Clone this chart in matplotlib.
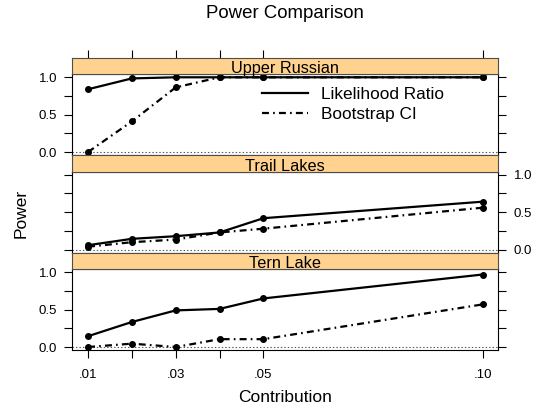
import matplotlib
matplotlib.use("Agg")
import matplotlib.pyplot as plt
from matplotlib.lines import Line2D

# contribution levels (x axis)
contribution = [0.01, 0.02, 0.03, 0.04, 0.05, 0.10]

# power by site
sites = ["Upper Russian", "Trail Lakes", "Tern Lake"]
lr_upper = [0.84, 0.985, 1.0, 1.0, 1.0, 1.0]
boot_upper = [0.0, 0.41, 0.865, 1.0, 1.0, 1.0]
lr_trail = [0.06, 0.145, 0.18, 0.23, 0.42, 0.64]
boot_trail = [0.04, 0.10, 0.135, 0.23, 0.28, 0.56]
lr_tern = [0.145, 0.335, 0.49, 0.51, 0.65, 0.97]
boot_tern = [0.0, 0.045, 0.0, 0.105, 0.105, 0.57]

xticks = [0.01, 0.02, 0.03, 0.04, 0.05, 0.10]
xticklabels = [".01", "", ".03", "", ".05", ".10"]
yticks = [0, 0.25, 0.5, 0.75, 1.0]
yticklabels = ["0.0", "", "0.5", "", "1.0"]

plt.rcParams['font.family'] = ['Liberation Sans', 'DejaVu Sans']
plt.rcParams['lines.scale_dashes'] = False

W, H = 536, 413
fig = plt.figure(figsize=(W / 100, H / 100), dpi=100)

strip_col = "#ffd28f"
xlim = (0.01 - 0.0036, 0.10 + 0.0036)
ylim = (-0.04, 1.04)
dotdash = (0, (5, 3, 1.2, 3))
left_px, right_px = 72.3, 498.3
mid_x = (left_px + right_px) / 2 / W


def box(top, bottom):
    return [left_px / W, 1 - bottom / H, (right_px - left_px) / W, (bottom - top) / H]


# panels, top to bottom: (strip top, strip bottom/panel top, panel bottom)
layout = [(57.7, 74.3, 155.0), (155.0, 171.7, 252.7), (252.7, 269.3, 350.0)]
data = [(lr_upper, boot_upper), (lr_trail, boot_trail), (lr_tern, boot_tern)]

for i, (name, (s_top, p_top, p_bot), (lr, bt)) in enumerate(zip(sites, layout, data)):
    ax = fig.add_axes(box(p_top, p_bot))
    ax.set_xlim(xlim)
    ax.set_ylim(ylim)
    ax.axhline(0, color="#555555", lw=0.8, ls=(0, (1, 1.5)), zorder=1)
    ax.plot(contribution, lr, color="black", lw=1.6, marker="o", ms=4, zorder=3)
    ax.plot(contribution, bt, color="black", lw=1.6, ls=dotdash, marker="o", ms=4, zorder=3)
    ax.set_yticks(yticks)
    ax.set_yticklabels(yticklabels, fontsize=9.5)
    ax.set_xticks(xticks)
    ax.tick_params(axis="y", direction="out", length=5.5, width=0.8,
                   left=True, right=True, labelleft=(i != 1), labelright=(i == 1),
                   labelsize=9.5, pad=5.5)
    ax.tick_params(axis="x", direction="out", length=5.5, width=0.8,
                   top=False, bottom=(i == 2), labelbottom=(i == 2),
                   labelsize=9.5, pad=8)
    if i == 2:
        ax.set_xticklabels(xticklabels, fontsize=9.5)
    else:
        ax.set_xticklabels([])
    for sp in ax.spines.values():
        sp.set_linewidth(0.8)

    sax = fig.add_axes(box(s_top, p_top))
    sax.set_facecolor(strip_col)
    sax.set_xlim(xlim)
    sax.set_yticks([])
    sax.set_xticks(xticks if i == 0 else [])
    sax.tick_params(direction="out", length=5.5, width=0.8, top=(i == 0),
                    bottom=False, labeltop=False, labelbottom=False)
    for sp in sax.spines.values():
        sp.set_linewidth(0.8)
        sp.set_color("#4d4d4d")
    sax.text(0.5, 0.05, name, transform=sax.transAxes, ha="center", va="baseline",
             fontsize=11.7)

    if i == 0:
        handles = [Line2D([], [], color="black", lw=1.6),
                   Line2D([], [], color="black", lw=1.6, ls=dotdash)]
        ax.legend(handles, ["Likelihood Ratio", "Bootstrap CI"], frameon=False,
                  loc="upper left",
                  bbox_to_anchor=((262 - left_px) / (right_px - left_px),
                                  (p_bot - 87) / (p_bot - p_top)),
                  fontsize=12.4, handlelength=2.67, handletextpad=0.75,
                  labelspacing=0.28, borderaxespad=0, borderpad=0)

fig.text(mid_x, 1 - 14 / H, "Power Comparison", ha="center", va="center", fontsize=13.4)
fig.text(mid_x, 1 - 397 / H, "Contribution", ha="center", va="center", fontsize=12.5)
fig.text(21 / W, 1 - 213 / H, "Power", ha="center", va="center", rotation=90, fontsize=12.5)

fig.savefig("out.png", dpi=100)
